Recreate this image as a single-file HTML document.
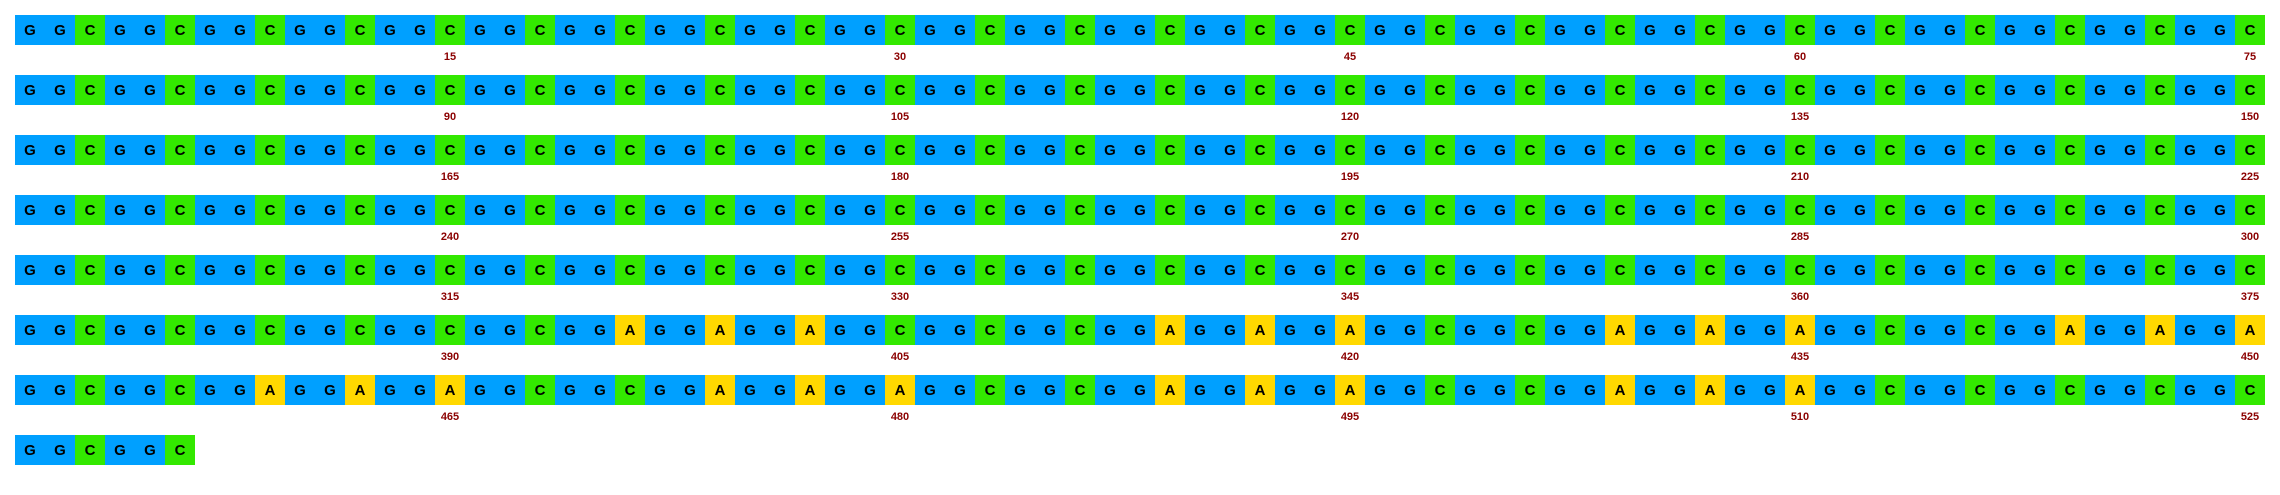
<!DOCTYPE html>
<html><head><meta charset="utf-8"><style>
html,body{margin:0;padding:0;background:#fff;width:2280px;height:495px;overflow:hidden}
svg text{font-family:"Liberation Sans",Arial,sans-serif}
</style></head><body>
<svg id="chart" width="2280" height="495" xmlns="http://www.w3.org/2000/svg"></svg>
<script>
const rowTriplets = [
  "GGC".repeat(25),"GGC".repeat(25),"GGC".repeat(25),"GGC".repeat(25),"GGC".repeat(25),
  "GGC".repeat(6)+"GGA".repeat(3)+"GGC".repeat(3)+"GGA".repeat(3)+"GGC".repeat(2)+"GGA".repeat(3)+"GGC".repeat(2)+"GGA".repeat(3),
  "GGC".repeat(2)+"GGA".repeat(3)+"GGC".repeat(2)+"GGA".repeat(3)+"GGC".repeat(2)+"GGA".repeat(3)+"GGC".repeat(2)+"GGA".repeat(3)+"GGC".repeat(5),
  "GGCGGC"
];
const sequence = rowTriplets.join("");
const basesPerRow = 75;
const labelEvery = 15;
const baseColors = {G:"#00a0ff",C:"#33e800",A:"#ffd800",T:"#ff4040"};

const svg = document.getElementById('chart');
const NS = "http://www.w3.org/2000/svg";
const x0 = 15, y0 = 15, cw = 30, ch = 30, rowGap = 60;
function xPos(i){ return x0 + (i % basesPerRow) * cw; }
function yPos(i){ return y0 + Math.floor(i / basesPerRow) * rowGap; }
for (let i = 0; i < sequence.length; i++) {
  const b = sequence[i];
  const r = document.createElementNS(NS,'rect');
  
  
  r.setAttribute('x', xPos(i)); r.setAttribute('y', yPos(i));
  r.setAttribute('width', cw); r.setAttribute('height', ch);
  r.setAttribute('fill', baseColors[b]);
  svg.appendChild(r);
  const t = document.createElementNS(NS,'text');
  
  
  t.setAttribute('x', xPos(i) + cw/2); t.setAttribute('y', yPos(i) + 20);
  t.setAttribute('text-anchor','middle'); t.setAttribute('font-size','15');
  t.setAttribute('font-weight','bold'); t.setAttribute('fill','#000');
  t.textContent = b;
  svg.appendChild(t);
  if ((i + 1) % labelEvery === 0) {
    const l = document.createElementNS(NS,'text');
    
    
    l.setAttribute('x', xPos(i) + cw/2); l.setAttribute('y', yPos(i) + 45);
    l.setAttribute('text-anchor','middle'); l.setAttribute('font-size','11');
    l.setAttribute('font-weight','bold'); l.setAttribute('fill','#8b0000');
    l.textContent = String(i + 1);
    svg.appendChild(l);
  }
}
</script>
</body></html>
